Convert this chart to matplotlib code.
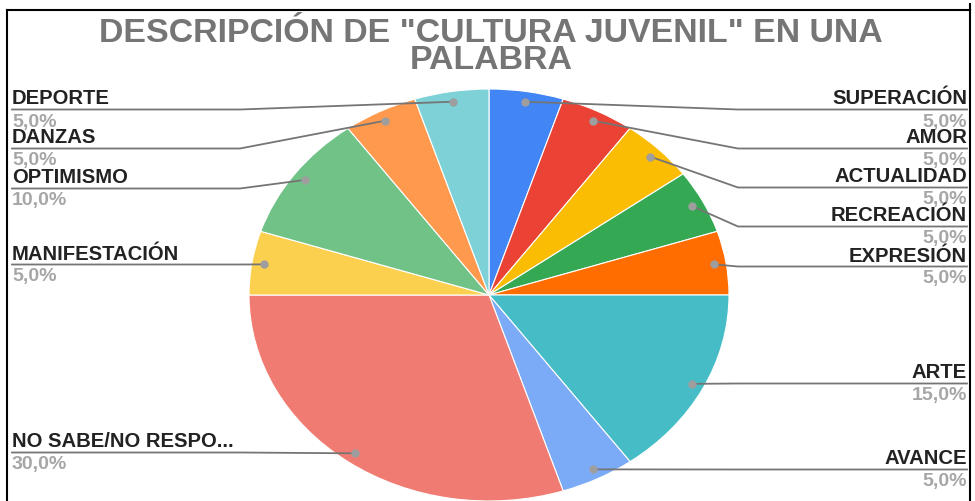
import numpy as np
import matplotlib
matplotlib.use('Agg')
import matplotlib.pyplot as plt

# datos
labels = ['SUPERACIÓN', 'AMOR', 'ACTUALIDAD', 'RECREACIÓN', 'EXPRESIÓN', 'ARTE',
          'AVANCE', 'NO SABE/NO RESPO...', 'MANIFESTACIÓN', 'OPTIMISMO', 'DANZAS', 'DEPORTE']
values = [5, 5, 5, 5, 5, 15, 5, 30, 5, 10, 5, 5]
colors = ['#4285F4', '#EA4335', '#FBBC04', '#34A853', '#FF6D01', '#46BDC6',
          '#7BAAF7', '#F07B72', '#FCD04F', '#71C287', '#FF994D', '#7ED1D7']

# posiciones de las etiquetas (y en pixeles) - layout
label_y = [99, 138, 177, 216, 256, 373, 459, 442, 254, 178, 138, 99]

W, H = 975, 502
fig = plt.figure(figsize=(W / 100, H / 100), dpi=100)
plt.rcParams['font.family'] = ['Liberation Sans', 'DejaVu Sans']

# pastel eliptico
cx, cy, rx, ry = 489, 296, 240, 206
ax = fig.add_axes([(cx - rx) / W, (H - cy - ry) / H, 2 * rx / W, 2 * ry / H])
wedges, _ = ax.pie(values, colors=colors, startangle=90, counterclock=False,
                   wedgeprops=dict(edgecolor='white', linewidth=0.8))
ax.set_aspect('auto')
ax.set_xlim(-1, 1)
ax.set_ylim(-1, 1)
ax.axis('off')

# capa superior en pixeles
ov = fig.add_axes([0, 0, 1, 1], zorder=5)
ov.set_xlim(0, W)
ov.set_ylim(H, 0)
ov.axis('off')
ov.patch.set_alpha(0)

fig.canvas.draw()
to_ov = ov.transData.inverted()

total = sum(values)
line_col = '#757575'
for w, lab, v, ly in zip(wedges, labels, values, label_y):
    ang = np.deg2rad((w.theta1 + w.theta2) / 2)
    px, py = to_ov.transform(ax.transData.transform((0.95 * np.cos(ang), 0.95 * np.sin(ang))))
    pct = f'{v / total * 100:.1f}%'.replace('.', ',')
    right = np.cos(ang) > 0
    line_y = ly + 11.5
    if right:
        bx = max(738, px)
        ov.plot([px, bx, 967], [py, line_y, line_y], color=line_col, lw=1.3, zorder=2)
        tx, ha = 967, 'right'
    else:
        bx = min(240, px)
        ov.plot([px, bx, 12], [py, line_y, line_y], color=line_col, lw=1.3, zorder=2)
        tx, ha = 12, 'left'
    ov.plot(px, py, 'o', color='#9e9e9e', ms=5, zorder=3)
    ov.text(tx, ly, lab, ha=ha, va='center', fontsize=14.6, fontweight='bold',
            color='#222222')
    ov.text(tx, ly + 23, pct, ha=ha, va='center', fontsize=14, fontweight='bold',
            color='#a6a6a6')

# titulo
ov.text(491, 47, 'DESCRIPCIÓN DE "CULTURA JUVENIL" EN UNA\nPALABRA', ha='center',
        va='center', fontsize=24.4, fontweight='bold', color='#757575', linespacing=0.83)

# marco
ov.plot([7, 970], [11, 11], color='black', lw=1.5)
ov.plot([7, 7], [11, H], color='black', lw=1.5)
ov.plot([970, 970], [5, H], color='black', lw=1.5)

fig.savefig('out.png', dpi=100)
